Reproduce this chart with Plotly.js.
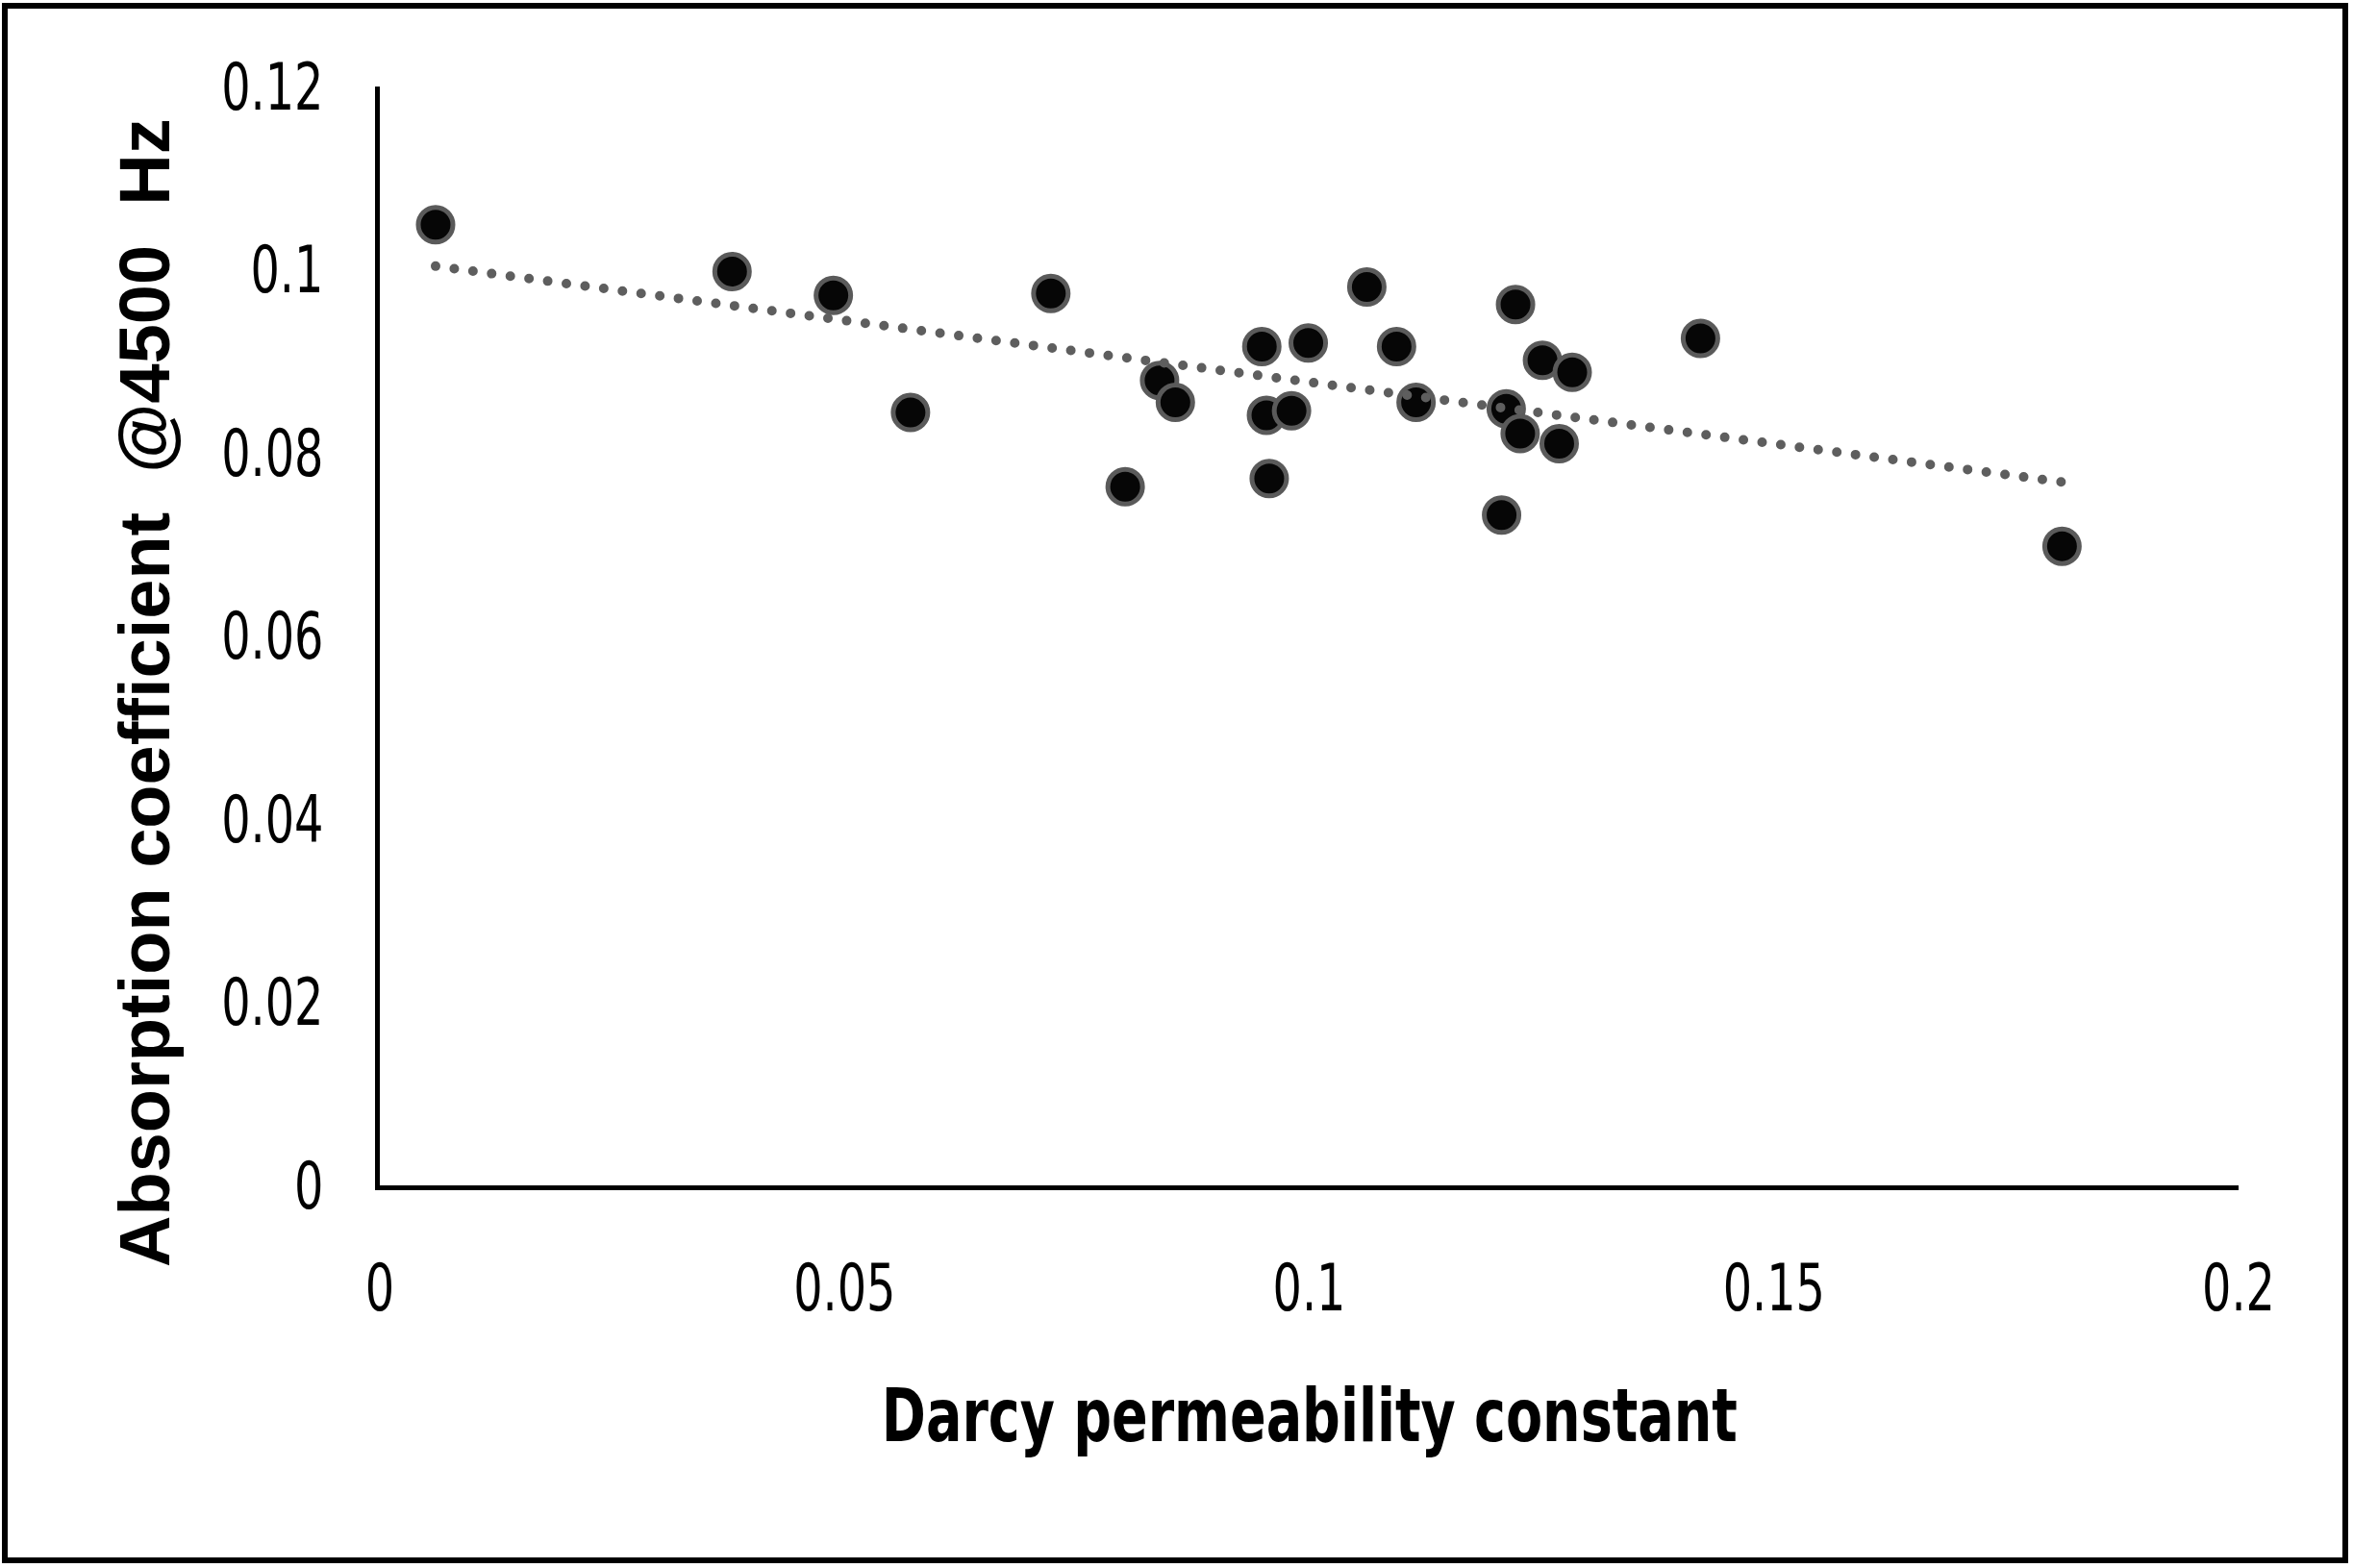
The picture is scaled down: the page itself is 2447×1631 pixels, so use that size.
<!DOCTYPE html>
<html>
<head>
<meta charset="utf-8">
<script src="https://cdn.plot.ly/plotly-3.0.1.min.js"></script>
<style>
  html, body { margin: 0; padding: 0; background: #ffffff; }
  #wrap { position: relative; width: 2447px; height: 1631px; overflow: hidden; }
  #chart { position: absolute; left: 0; top: 0; width: 2447px; height: 1631px; }
  #frame { position: absolute; left: 2px; top: 3px; width: 2428px; height: 1611px;
           border: 6px solid #000; pointer-events: none; }
  .js-line { stroke-linecap: round !important; }
</style>
</head>
<body>
<div id="wrap">
  <div id="chart"></div>
  <div id="frame"></div>
</div>
<script>
// Darcy permeability constant (x) and absorption coefficient @4500 Hz (y)
const darcyK = [0.0060, 0.0379, 0.0488, 0.0571, 0.0722, 0.0802, 0.0839, 0.0856, 0.0949, 0.0954,
                0.0957, 0.0981, 0.0999, 0.1062, 0.1094, 0.1115, 0.1207, 0.1212, 0.1222, 0.1227,
                0.1251, 0.1269, 0.1283, 0.1421, 0.1810];
const absorption = [0.1049, 0.0998, 0.0972, 0.0844, 0.0974, 0.0763, 0.0879, 0.0855, 0.0916, 0.0841,
                    0.0772, 0.0846, 0.0920, 0.0981, 0.0916, 0.0855, 0.0732, 0.0848, 0.0962, 0.0821,
                    0.0901, 0.0810, 0.0888, 0.0925, 0.0698];

const xTickVals = [0, 0.05, 0.1, 0.15, 0.2];
const xTickText = ['0', '0.05', '0.1', '0.15', '0.2'];
const yTickVals = [0, 0.02, 0.04, 0.06, 0.08, 0.1, 0.12];
const yTickText = ['0', '0.02', '0.04', '0.06', '0.08', '0.1', '0.12'];

const xTitle = 'Darcy permeability constant';
const yTitle = 'Absorption coefficient\u00a0\u00a0@4500\u00a0\u00a0Hz';

// Linear trendline (least squares) over the data range, as in the original spreadsheet chart
const n = darcyK.length;
const mx = darcyK.reduce((a, b) => a + b, 0) / n;
const my = absorption.reduce((a, b) => a + b, 0) / n;
let sxy = 0, sxx = 0;
for (let i = 0; i < n; i++) { sxy += (darcyK[i] - mx) * (absorption[i] - my); sxx += (darcyK[i] - mx) ** 2; }
const slope = sxy / sxx;
const intercept = my - slope * mx;
const trendX = [Math.min(...darcyK), Math.max(...darcyK)];
const trendY = trendX.map(v => intercept + slope * v);

const narrow = "'DejaVu Sans Condensed', 'DejaVu Sans', sans-serif";
const wide = "'Liberation Sans', Arial, sans-serif";

const traces = [
  {
    x: darcyK, y: absorption, type: 'scatter', mode: 'markers',
    marker: { color: '#060606', size: 36, line: { color: '#5a5a5a', width: 5 } },
    cliponaxis: false, hoverinfo: 'x+y'
  },
  {
    x: trendX, y: trendY, type: 'scatter', mode: 'lines',
    line: { color: '#5e5e5e', width: 10, dash: '0px,19.6px' },
    hoverinfo: 'skip'
  }
];

const layout = {
  width: 2447, height: 1631,
  paper_bgcolor: '#ffffff', plot_bgcolor: '#ffffff',
  showlegend: false,
  margin: { l: 395, r: 119, t: 90, b: 398, pad: 0 },
  xaxis: {
    range: [0, 0.2], showgrid: false, zeroline: false,
    showline: true, linecolor: '#000', linewidth: 5,
    ticks: '', tickvals: xTickVals, ticktext: xTickText,
    ticklabelstandoff: 43,
    tickfont: { family: narrow, size: 68, color: '#000' },
    fixedrange: true
  },
  yaxis: {
    range: [0, 0.12], showgrid: false, zeroline: false,
    showline: true, linecolor: '#000', linewidth: 5,
    ticks: '', tickvals: yTickVals, ticktext: yTickText,
    ticklabelstandoff: 40,
    tickfont: { family: narrow, size: 68, color: '#000' },
    fixedrange: true
  },
  annotations: [
    {
      text: '<b>' + xTitle + '</b>', xref: 'paper', yref: 'paper',
      x: 0.5003, y: -0.2091, xanchor: 'center', yanchor: 'middle', showarrow: false,
      font: { family: narrow, size: 76, color: '#000' }
    },
    {
      text: '<b>' + yTitle + '</b>', xref: 'paper', yref: 'paper',
      x: -0.1262, y: 0.448, xanchor: 'center', yanchor: 'middle', showarrow: false,
      textangle: -90,
      font: { family: wide, size: 74, color: '#000' }
    }
  ]
};

function squeeze(el, target) {
  el.setAttribute('textLength', target.toFixed(1));
  el.setAttribute('lengthAdjust', 'spacingAndGlyphs');
}

Plotly.newPlot('chart', traces, layout, { displayModeBar: false, staticPlot: true }).then(gd => {
  gd.querySelectorAll('.xtick text, .ytick text').forEach(t => {
    squeeze(t, t.getComputedTextLength() * 0.78);
  });
  const ann = gd.querySelectorAll('text.annotation-text');
  if (ann[0]) squeeze(ann[0], 890);
});
</script>
</body>
</html>
